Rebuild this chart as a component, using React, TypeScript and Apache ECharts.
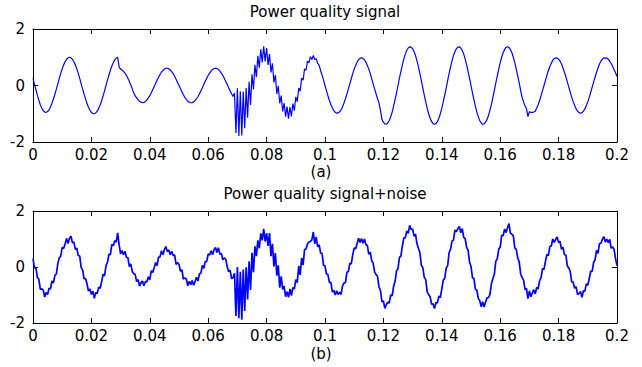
import React, { useEffect, useRef } from "react";
import * as echarts from "echarts";

// Sample spacing of the recorded signal (seconds)
const sampleStep = 0.0005;

const xTicks = { min: 0, max: 0.2, interval: 0.02 };
const yTicks = { min: -2, max: 2, interval: 2 };

const titleA = "Power quality signal";
const titleB = "Power quality signal+noise";
const captionA = "(a)";
const captionB = "(b)";

// (a) power quality signal, one value per sample
const signalA = [
  0.25, 0.05, -0.15, -0.35, -0.52, -0.68, -0.80, -0.89, -0.94, -0.95, -0.92, -0.86, -0.76, -0.63, -0.48, -0.31, -0.13, 0.06, 0.25, 0.43,
  0.59, 0.73, 0.84, 0.93, 0.98, 1.00, 0.98, 0.93, 0.84, 0.73, 0.59, 0.43, 0.25, 0.06, -0.13, -0.31, -0.48, -0.64, -0.77, -0.88,
  -0.95, -0.99, -1.00, -0.97, -0.91, -0.81, -0.69, -0.54, -0.37, -0.19, 0.00, 0.19, 0.37, 0.54, 0.69, 0.81, 0.91, 0.97, 1.00, 0.65,
  0.58, 0.55, 0.50, 0.44, 0.36, 0.26, 0.14, 0.02, -0.12, -0.26, -0.37, -0.44, -0.51, -0.56, -0.59, -0.61, -0.60, -0.57, -0.51, -0.44,
  -0.36, -0.26, -0.15, -0.04, 0.08, 0.19, 0.29, 0.39, 0.47, 0.53, 0.58, 0.61, 0.61, 0.59, 0.55, 0.49, 0.42, 0.33, 0.22, 0.11,
  0.00, -0.11, -0.22, -0.33, -0.42, -0.49, -0.55, -0.59, -0.61, -0.61, -0.58, -0.53, -0.47, -0.39, -0.29, -0.19, -0.08, 0.04, 0.15, 0.26,
  0.36, 0.44, 0.51, 0.57, 0.60, 0.61, 0.60, 0.57, 0.51, 0.44, 0.36, 0.26, 0.15, 0.04, -0.08, -0.19, -0.29, -0.39, -0.27, -1.68,
  -0.10, -1.79, -0.20, -1.77, -0.21, -1.51, -0.09, -1.14, 0.13, -0.69, 0.40, -0.14, 0.73, 0.30, 1.05, 0.63, 1.28, 0.82, 1.39, 0.85,
  1.33, 0.73, 1.11, 0.46, 0.78, 0.11, 0.37, -0.30, -0.02, -0.63, -0.36, -0.92, -0.62, -1.10, -0.75, -1.17, -0.76, -1.09, -0.64, -0.89,
  -0.40, -0.57, -0.09, -0.20, 0.26, 0.19, 0.59, 0.54, 0.86, 0.80, 1.02, 0.92, 1.06, 0.92, 0.95, 0.78, 0.71, 0.53, 0.37, 0.19,
  0.00, -0.18, -0.36, -0.53, -0.67, -0.79, -0.89, -0.95, -0.98, -0.97, -0.93, -0.86, -0.76, -0.62, -0.47, -0.30, -0.12, 0.06, 0.24, 0.42,
  0.58, 0.71, 0.83, 0.91, 0.96, 0.98, 0.96, 0.91, 0.83, 0.71, 0.58, 0.42, 0.24, 0.06, -0.12, -0.30, -0.47, -0.62, -0.89, -1.20,
  -1.30, -1.36, -1.37, -1.33, -1.24, -1.11, -0.94, -0.73, -0.50, -0.26, 0.00, 0.26, 0.50, 0.73, 0.94, 1.11, 1.24, 1.33, 1.37, 1.36,
  1.30, 1.20, 1.06, 0.87, 0.66, 0.42, 0.17, -0.09, -0.34, -0.58, -0.81, -1.00, -1.16, -1.27, -1.35, -1.37, -1.35, -1.27, -1.16, -1.00,
  -0.81, -0.58, -0.34, -0.09, 0.17, 0.42, 0.66, 0.87, 1.06, 1.20, 1.30, 1.36, 1.37, 1.33, 1.24, 1.11, 0.94, 0.73, 0.50, 0.26,
  0.00, -0.26, -0.50, -0.73, -0.94, -1.11, -1.24, -1.33, -1.37, -1.36, -1.30, -1.20, -1.06, -0.87, -0.66, -0.42, -0.17, 0.09, 0.34, 0.58,
  0.81, 1.00, 1.16, 1.27, 1.35, 1.37, 1.35, 1.27, 1.16, 1.00, 0.81, 0.58, 0.34, 0.09, -0.17, -0.42, -0.58, -0.72, -0.82, -1.10,
  -0.93, -0.95, -0.95, -0.94, -0.91, -0.80, -0.68, -0.53, -0.36, -0.18, 0.00, 0.18, 0.36, 0.53, 0.67, 0.79, 0.89, 0.95, 0.98, 0.97,
  0.93, 0.86, 0.76, 0.62, 0.47, 0.30, 0.12, -0.06, -0.24, -0.42, -0.58, -0.71, -0.83, -0.91, -0.96, -0.98, -0.96, -0.91, -0.83, -0.71,
  -0.58, -0.42, -0.24, -0.06, 0.12, 0.30, 0.47, 0.62, 0.76, 0.86, 0.93, 0.97, 0.98, 0.97, 0.93, 0.86, 0.78, 0.68, 0.56, 0.45,
  0.32,
];

// (b) power quality signal + noise, one value per sample
const signalB = [
  0.30, -0.03, -0.03, -0.38, -0.43, -0.79, -0.78, -0.82, -1.07, -0.91, -0.98, -0.76, -0.78, -0.50, -0.57, -0.30, -0.25, 0.12, 0.33, 0.38,
  0.70, 0.66, 0.83, 1.02, 0.84, 1.03, 1.10, 0.87, 0.89, 0.63, 0.67, 0.41, 0.39, -0.02, -0.11, -0.42, -0.41, -0.60, -0.86, -0.78,
  -0.98, -0.86, -1.12, -0.91, -0.95, -0.72, -0.76, -0.53, -0.26, -0.32, 0.05, 0.17, 0.45, 0.44, 0.81, 0.76, 0.94, 0.89, 1.22, 0.79,
  0.47, 0.59, 0.44, 0.56, 0.35, 0.33, 0.01, 0.11, -0.16, -0.24, -0.27, -0.52, -0.45, -0.68, -0.56, -0.50, -0.67, -0.52, -0.53, -0.35,
  -0.46, -0.13, -0.20, -0.03, 0.16, 0.05, 0.35, 0.36, 0.58, 0.44, 0.62, 0.73, 0.55, 0.61, 0.44, 0.56, 0.41, 0.43, 0.09, 0.16,
  0.09, -0.15, -0.10, -0.43, -0.39, -0.43, -0.67, -0.51, -0.63, -0.48, -0.65, -0.52, -0.37, -0.50, -0.24, -0.22, 0.06, -0.05, 0.19, 0.20,
  0.47, 0.43, 0.58, 0.44, 0.62, 0.70, 0.52, 0.69, 0.46, 0.48, 0.26, 0.32, 0.28, 0.01, -0.17, -0.11, -0.41, -0.38, -0.22, -1.75,
  0.00, -1.83, -0.17, -1.88, -0.09, -1.57, -0.01, -1.16, 0.20, -0.82, 0.51, -0.19, 0.74, 0.39, 0.95, 0.67, 1.20, 0.95, 1.36, 0.91,
  1.21, 0.75, 1.21, 0.39, 0.83, 0.02, 0.50, -0.31, 0.06, -0.74, -0.33, -0.80, -0.68, -1.06, -0.88, -1.08, -0.78, -1.02, -0.74, -0.78,
  -0.45, -0.56, 0.04, -0.28, 0.32, 0.07, 0.62, 0.64, 0.82, 0.89, 0.91, 0.97, 1.25, 0.83, 1.07, 0.72, 0.79, 0.50, 0.48, 0.06,
  0.04, -0.25, -0.27, -0.55, -0.55, -0.89, -0.83, -1.00, -0.85, -0.98, -0.90, -0.98, -0.68, -0.57, -0.56, -0.19, -0.16, 0.13, 0.11, 0.44,
  0.68, 0.65, 0.84, 1.03, 0.88, 1.02, 0.85, 1.00, 0.80, 0.77, 0.45, 0.53, 0.22, 0.14, -0.19, -0.27, -0.34, -0.72, -0.84, -1.24,
  -1.21, -1.48, -1.35, -1.26, -1.29, -1.00, -1.03, -0.69, -0.51, -0.13, -0.06, 0.34, 0.39, 0.76, 1.04, 1.04, 1.29, 1.20, 1.49, 1.34,
  1.36, 1.10, 1.17, 0.83, 0.67, 0.51, 0.05, -0.02, -0.37, -0.45, -0.89, -0.98, -1.06, -1.33, -1.31, -1.48, -1.27, -1.28, -1.04, -1.09,
  -0.78, -0.47, -0.41, -0.04, 0.04, 0.51, 0.64, 0.93, 0.96, 1.32, 1.26, 1.37, 1.45, 1.22, 1.37, 1.06, 1.01, 0.70, 0.60, 0.18,
  0.02, -0.38, -0.41, -0.79, -0.83, -1.12, -1.20, -1.42, -1.24, -1.43, -1.25, -1.10, -1.09, -0.98, -0.59, -0.41, -0.25, 0.21, 0.29, 0.64,
  0.71, 1.13, 1.12, 1.35, 1.23, 1.40, 1.55, 1.21, 1.17, 1.11, 0.68, 0.63, 0.32, 0.19, -0.24, -0.38, -0.46, -0.81, -0.76, -1.13,
  -0.85, -1.06, -0.93, -0.81, -0.96, -0.73, -0.78, -0.49, -0.37, -0.06, -0.08, 0.21, 0.45, 0.41, 0.73, 0.75, 1.00, 0.88, 0.99, 1.07,
  0.87, 0.91, 0.63, 0.71, 0.45, 0.42, 0.03, -0.03, -0.17, -0.53, -0.54, -0.76, -0.70, -0.99, -0.94, -0.88, -1.08, -0.85, -0.86, -0.60,
  -0.65, -0.41, -0.15, -0.16, 0.17, 0.26, 0.59, 0.49, 0.84, 0.84, 0.99, 1.08, 0.89, 1.00, 0.87, 0.99, 0.67, 0.72, 0.63, 0.30,
  0.05,
];

const FONT = "DejaVu Sans";
const BLUE = "#0000ff";

function toPairs(values: number[]) {
  return values.map((v, i) => [i * sampleStep, v]);
}

function xAxisPair(gridIndex: number) {
  const common = {
    gridIndex,
    type: "value" as const,
    min: xTicks.min,
    max: xTicks.max,
    interval: xTicks.interval,
    splitLine: { show: false },
    axisLine: { show: true, onZero: false, lineStyle: { color: "#000", width: 1 } },
    axisTick: { show: true, inside: true, length: 5, lineStyle: { color: "#000", width: 1 } },
  };
  return [
    {
      ...common,
      position: "bottom",
      axisLabel: {
        show: true,
        color: "#000",
        fontSize: 15,
        fontFamily: FONT,
        margin: 5,
        showMinLabel: true,
        showMaxLabel: true,
      },
    },
    { ...common, position: "top", axisLabel: { show: false } },
  ];
}

function yAxisPair(gridIndex: number) {
  const common = {
    gridIndex,
    type: "value" as const,
    min: yTicks.min,
    max: yTicks.max,
    interval: yTicks.interval,
    splitLine: { show: false },
    axisLine: { show: true, onZero: false, lineStyle: { color: "#000", width: 1 } },
    axisTick: { show: true, inside: true, length: 5, lineStyle: { color: "#000", width: 1 } },
  };
  return [
    {
      ...common,
      position: "left",
      axisLabel: { show: true, color: "#000", fontSize: 15, fontFamily: FONT, margin: 8 },
    },
    { ...common, position: "right", axisLabel: { show: false } },
  ];
}

function textItem(text: string, x: number, y: number) {
  return {
    type: "text",
    x,
    y,
    style: {
      text,
      fill: "#000",
      fontSize: 15,
      fontFamily: FONT,
      align: "center",
      verticalAlign: "middle",
    },
  };
}

export default function App() {
  const ref = useRef<HTMLDivElement>(null);

  useEffect(() => {
    if (!ref.current) return;
    const chart = echarts.init(ref.current, undefined, { renderer: "svg" });
    chart.setOption({
      animation: false,
      backgroundColor: "#fff",
      grid: [
        { left: 33, right: 25, top: 29, height: 113 },
        { left: 33, right: 25, top: 211, height: 112 },
      ],
      xAxis: [...xAxisPair(0), ...xAxisPair(1)],
      yAxis: [...yAxisPair(0), ...yAxisPair(1)],
      graphic: [
        textItem(titleA, 325, 12),
        textItem(captionA, 321, 172),
        textItem(titleB, 325, 194),
        textItem(captionB, 321, 354),
      ],
      series: [
        {
          type: "line",
          xAxisIndex: 0,
          yAxisIndex: 0,
          data: toPairs(signalA),
          showSymbol: false,
          symbol: "none",
          lineStyle: { color: BLUE, width: 1.2 },
          itemStyle: { color: BLUE },
        },
        {
          type: "line",
          xAxisIndex: 2,
          yAxisIndex: 2,
          data: toPairs(signalB),
          showSymbol: false,
          symbol: "none",
          lineStyle: { color: BLUE, width: 1.7 },
          itemStyle: { color: BLUE },
        },
      ],
    });
    return () => chart.dispose();
  }, []);

  return (
    <div
      ref={ref}
      style={{ position: "absolute", left: 0, top: 0, width: 642, height: 367 }}
    />
  );
}
